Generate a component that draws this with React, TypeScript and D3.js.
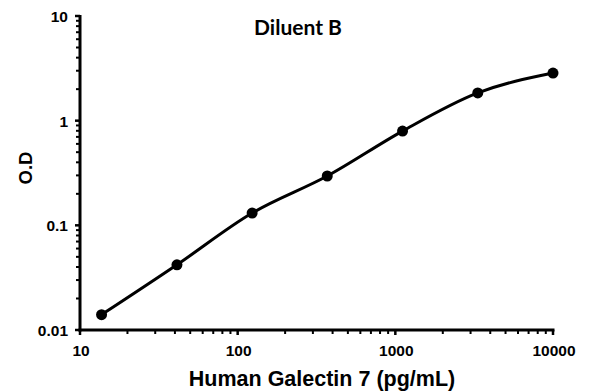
import React, { useEffect, useRef } from "react";
import * as d3 from "d3";

const concentrations = [13.7, 41.2, 123.5, 370, 1111, 3333, 10000];
const odValues = [0.014, 0.042, 0.131, 0.296, 0.795, 1.84, 2.85];
const xTickLabels = ["10", "100", "1000", "10000"];
const yTickLabels = ["0.01", "0.1", "1", "10"];

const W = 596;
const H = 392;
const margin = { top: 16, right: 43, bottom: 62, left: 80 };

export default function App() {
  const ref = useRef<SVGSVGElement>(null);

  useEffect(() => {
    const svg = d3.select(ref.current);
    svg.selectAll("*").remove();

    const x = d3.scaleLog().domain([10, 10000]).range([margin.left, W - margin.right]);
    const y = d3.scaleLog().domain([0.01, 10]).range([H - margin.bottom, margin.top]);

    const minorX: number[] = [];
    for (let p = 10; p < 10000; p *= 10) for (let k = 2; k <= 9; k++) minorX.push(p * k);
    const minorY: number[] = [];
    for (let p = 0.01; p < 9; p *= 10) for (let k = 2; k <= 9; k++) minorY.push(p * k);

    const tickFont = "'Liberation Sans', Arial, sans-serif";

    // x axis
    const gx = svg.append("g");
    gx.append("line")
      .attr("x1", x(10) - 1.5).attr("x2", x(10000) + 1.5)
      .attr("y1", y(0.01)).attr("y2", y(0.01))
      .attr("stroke", "#000").attr("stroke-width", 3);
    gx.selectAll("line.minor").data(minorX).join("line")
      .attr("class", "minor")
      .attr("x1", d => x(d)).attr("x2", d => x(d))
      .attr("y1", y(0.01)).attr("y2", y(0.01) + 4)
      .attr("stroke", "#000").attr("stroke-width", 2);
    gx.selectAll("line.major").data(xTickLabels).join("line")
      .attr("class", "major")
      .attr("x1", d => x(+d)).attr("x2", d => x(+d))
      .attr("y1", y(0.01)).attr("y2", y(0.01) + 5)
      .attr("stroke", "#000").attr("stroke-width", 2.5);
    gx.selectAll("text").data(xTickLabels).join("text")
      .attr("x", d => x(+d) + 1).attr("y", y(0.01) + 26)
      .attr("text-anchor", "middle")
      .style("font-family", tickFont).style("font-weight", "bold").style("font-size", "15.5px")
      .text(d => d);

    // y axis
    const gy = svg.append("g");
    gy.append("line")
      .attr("x1", x(10)).attr("x2", x(10))
      .attr("y1", y(10) - 1).attr("y2", y(0.01) + 1.5)
      .attr("stroke", "#000").attr("stroke-width", 3);
    gy.selectAll("line.minor").data(minorY).join("line")
      .attr("class", "minor")
      .attr("x1", x(10) - 4).attr("x2", x(10))
      .attr("y1", d => y(d)).attr("y2", d => y(d))
      .attr("stroke", "#000").attr("stroke-width", 2);
    gy.selectAll("line.major").data(yTickLabels).join("line")
      .attr("class", "major")
      .attr("x1", x(10) - 5).attr("x2", x(10))
      .attr("y1", d => y(+d)).attr("y2", d => y(+d))
      .attr("stroke", "#000").attr("stroke-width", 2.5);
    gy.selectAll("text").data(yTickLabels).join("text")
      .attr("x", x(10) - 12).attr("y", d => y(+d) + 6)
      .attr("text-anchor", "end")
      .style("font-family", tickFont).style("font-weight", "bold").style("font-size", "15.5px")
      .text(d => d);

    // axis titles
    svg.append("text")
      .attr("x", 322).attr("y", 386)
      .attr("text-anchor", "middle")
      .style("font-family", tickFont).style("font-weight", "bold").style("font-size", "21.5px")
      .text("Human Galectin 7 (pg/mL)");
    svg.append("text")
      .attr("transform", `translate(32,168) rotate(-90)`)
      .attr("text-anchor", "middle")
      .style("font-family", tickFont).style("font-weight", "bold").style("font-size", "18.5px")
      .text("O.D");

    // title
    svg.append("text")
      .attr("x", 298).attr("y", 35)
      .attr("text-anchor", "middle")
      .style("font-family", "Lato, 'Open Sans', sans-serif").style("font-weight", "bold").style("font-size", "21px")
      .text("Diluent B");

    const pts = concentrations.map((c, i) => [x(c), y(odValues[i])] as [number, number]);
    const line = d3.line().curve(d3.curveMonotoneX);
    svg.append("path")
      .attr("d", line(pts))
      .attr("fill", "none").attr("stroke", "#000").attr("stroke-width", 3);
    svg.selectAll("circle").data(pts).join("circle")
      .attr("cx", d => d[0]).attr("cy", d => d[1]).attr("r", 5.5)
      .attr("fill", "#000");
  }, []);

  return (
    <svg
      ref={ref}
      width={W}
      height={H}
      style={{ position: "absolute", left: 0, top: 0, background: "#fff" }}
    />
  );
}
